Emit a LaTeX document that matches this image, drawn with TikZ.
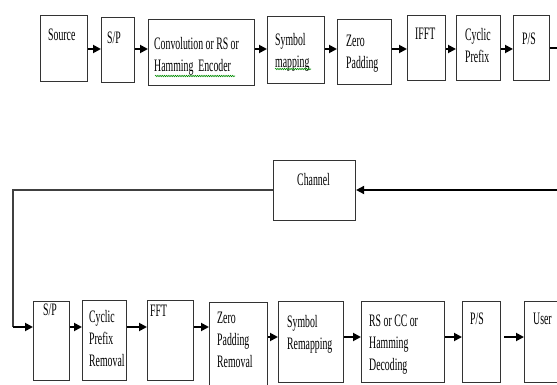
\documentclass[tikz,border=0pt]{standalone}
\usepackage{fontspec}
\setmainfont{Liberation Serif}[FakeStretch=0.56]
\usetikzlibrary{arrows.meta,decorations.pathmorphing}

\tikzset{
  blk/.style={draw=black!80, line width=1.1pt, inner sep=0pt, anchor=north west},
  lbl/.style={inner sep=0pt, anchor=north west, align=left, font=\fontsize{17.5}{22}\selectfont},
  flow/.style={line width=1.8pt, -{Triangle[length=8pt,width=8pt]}},
  wire/.style={draw=black!75, line width=1.3pt},
  spell/.style={draw=green!55!black, line width=0.6pt, decorate,
    decoration={snake, amplitude=0.7pt, segment length=2.2pt}}
}

\begin{document}
\begin{tikzpicture}[x=1pt,y=-1pt]
\useasboundingbox (0,0) rectangle (557,385);
\coordinate (top) at (0,49);
\coordinate (rx) at (0,327);
\coordinate (mid) at (0,337);
\coordinate (in) at (565,190);
\coordinate (out) at (565,48);
\coordinate (bend) at (13,190);

% transmitter
\node [blk, minimum width=47pt, minimum height=66pt] (src) at (40,15) {};
\node [blk, minimum width=33pt, minimum height=65pt] (sp1) at (101,17) {};
\node [blk, minimum width=106pt, minimum height=66pt] (enc) at (148,19) {};
\node [blk, minimum width=57pt, minimum height=67pt] (map) at (267,16) {};
\node [blk, minimum width=54pt, minimum height=65pt] (zp) at (337,19) {};
\node [blk, minimum width=38pt, minimum height=65pt] (ifft) at (407,15) {};
\node [blk, minimum width=44pt, minimum height=65pt] (cp) at (456,15) {};
\node [blk, minimum width=36pt, minimum height=65pt] (ps1) at (513,15) {};

\node [lbl] (src-t) at ([shift={(8,14)}]src.north west) {Source};
\node [lbl] (sp1-t) at ([shift={(6,15)}]sp1.north west) {S/P};
\node [lbl] (enc-t) at ([shift={(6,18)}]enc.north west) {Convolution or RS or\\Hamming~ Encoder};
\node [lbl] (map-t) at ([shift={(8,17)}]map.north west) {Symbol\\mapping};
\node [lbl] (zp-t) at ([shift={(9,16)}]zp.north west) {Zero\\Padding};
\node [lbl] (ifft-t) at ([shift={(8,13)}]ifft.north west) {IFFT};
\node [lbl] (cp-t) at ([shift={(9,13)}]cp.north west) {Cyclic\\Prefix};
\node [lbl] (ps1-t) at ([shift={(9,18)}]ps1.north west) {P/S};

\draw [spell] (155,76) -- (235,76);
\draw [spell] (275,69) -- (311,69);

\draw [flow] (src.east |- top) -- (sp1.west |- top);
\draw [flow] (sp1.east |- top) -- (enc.west |- top);
\draw [flow] (enc.east |- top) -- (map.west |- top);
\draw [flow] (map.east |- top) -- (zp.west |- top);
\draw [flow] (zp.east |- top) -- (ifft.west |- top);
\draw [flow] (ifft.east |- top) -- (cp.west |- top);
\draw [flow] (cp.east |- top) -- (ps1.west |- top);
\draw [line width=1.8pt] (ps1.east |- out) -- (out);

% channel
\node [blk, minimum width=82pt, minimum height=60pt] (chan) at (273,160) {};
\node [lbl, anchor=north] (chan-t) at ([shift={(-1,13)}]chan.north) {Channel};
\draw [flow] (in) -- (chan.east |- in);
\draw [wire] (chan.west |- in) -- (bend) -- (bend |- rx);

% receiver
\node [blk, minimum width=36pt, minimum height=79pt] (sp2) at (33,301) {};
\node [blk, minimum width=44pt, minimum height=80pt] (cpr) at (82,300) {};
\node [blk, minimum width=46pt, minimum height=80pt] (fft) at (147,300) {};
\node [blk, minimum width=58pt, minimum height=88pt] (zpr) at (209,302) {};
\node [blk, minimum width=65pt, minimum height=81pt] (remap) at (278,301) {};
\node [blk, minimum width=83pt, minimum height=81pt] (dec) at (361,301) {};
\node [blk, minimum width=38pt, minimum height=81pt] (ps2) at (462,301) {};
\node [blk, minimum width=45pt, minimum height=81pt] (user) at (524,301) {};

\node [lbl] (sp2-t) at ([shift={(10,3)}]sp2.north west) {S/P};
\node [lbl] (cpr-t) at ([shift={(7,10)}]cpr.north west) {Cyclic\\Prefix\\Removal};
\node [lbl] (fft-t) at ([shift={(3,5)}]fft.north west) {FFT};
\node [lbl] (zpr-t) at ([shift={(8,10)}]zpr.north west) {Zero\\Padding\\Removal};
\node [lbl] (remap-t) at ([shift={(9,14)}]remap.north west) {Symbol\\Remapping};
\node [lbl] (dec-t) at ([shift={(8,14)}]dec.north west) {RS or CC or\\Hamming\\Decoding};
\node [lbl] (ps2-t) at ([shift={(8,12)}]ps2.north west) {P/S};
\node [lbl] (user-t) at ([shift={(9,12)}]user.north west) {User};

\draw [flow] (bend |- rx) -- (sp2.west |- rx);
\draw [flow] (sp2.east |- rx) -- (cpr.west |- rx);
\draw [flow] (cpr.east |- rx) -- (fft.west |- rx);
\draw [flow] (fft.east |- rx) -- (zpr.west |- rx);
\draw [flow] (zpr.east |- mid) -- (remap.west |- mid);
\draw [flow] (remap.east |- mid) -- (dec.west |- mid);
\draw [flow] (dec.east |- mid) -- (ps2.west |- mid);
\draw [flow] ([xshift=3pt]ps2.east |- mid) -- (user.west |- mid);
\end{tikzpicture}
\end{document}
